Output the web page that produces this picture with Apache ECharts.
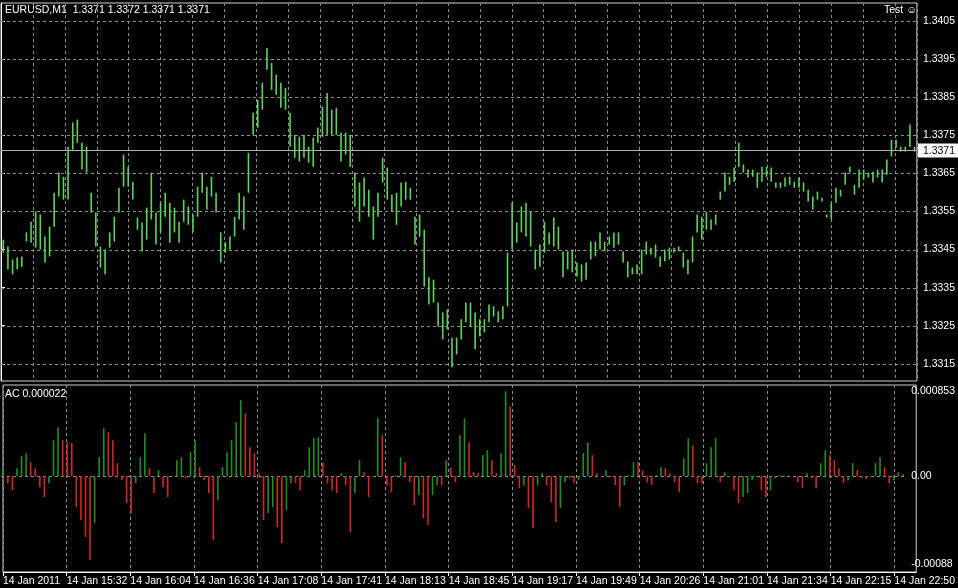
<!DOCTYPE html>
<html><head><meta charset="utf-8">
<script src="https://cdn.jsdelivr.net/npm/echarts@6/dist/echarts.min.js"></script>
<style>html,body{margin:0;padding:0;background:#000}#c{width:958px;height:588px}</style>
</head><body><div id="c"></div>
<script>
var highs = [
1.33476,1.33458,1.33424,1.33429,1.33432,1.33495,1.33523,1.33550,1.33542,1.33484,
1.33510,1.33599,1.33652,1.33641,1.33720,1.33783,1.33791,1.33730,1.33720,1.33599,
1.33547,1.33458,1.33450,1.33495,1.33536,1.33612,1.33699,1.33667,1.33628,1.33534,
1.33521,1.33560,1.33652,1.33547,1.33573,1.33599,1.33573,1.33560,1.33523,1.33581,
1.33563,1.33542,1.33615,1.33652,1.33615,1.33641,1.33599,1.33495,1.33469,1.33484,
1.33536,1.33599,1.33589,1.33704,
1.33809,1.33843,1.33888,1.33979,1.33940,1.33909,1.33888,1.33874,1.33809,1.33751,
1.33746,1.33751,1.33720,1.33743,1.33770,1.33825,1.33861,1.33817,1.33822,1.33757,
1.33757,1.33751,1.33652,1.33626,1.33639,1.33607,1.33563,1.33599,1.33691,1.33665,
1.33594,1.33599,1.33626,1.33628,1.33612,1.33536,1.33542,1.33502,1.33377,1.33371,
1.33311,1.33285,1.33293,1.33219,1.33219,1.33267,1.33311,
1.33311,1.33285,1.33267,1.33267,1.33306,1.33301,1.33288,1.33301,1.33442,1.33573,
1.33521,1.33563,1.33573,1.33549,1.33450,1.33463,1.33523,1.33495,1.33534,1.33510,
1.33445,1.33445,1.33450,1.33416,1.33411,1.33416,1.33471,1.33471,1.33495,1.33471,
1.33484,1.33495,1.33495,1.33445,1.33419,1.33403,1.33411,1.33450,1.33471,1.33455,
1.33463,1.33432,1.33450,1.33455,1.33455,1.33458,1.33442,1.33424,1.33484,1.33542,
1.33536,1.33549,1.33529,1.33542,1.33602,1.33652,1.33641,1.33665,1.33730,1.33673,
1.33660,1.33660,1.33652,1.33667,1.33667,1.33665,1.33626,1.33626,1.33639,1.33641,
1.33628,1.33639,1.33626,1.33607,1.33589,1.33602,1.33586,1.33542,1.33573,1.33612,
1.33607,1.33652,1.33667,1.33620,1.33660,1.33660,1.33652,1.33654,1.33660,1.33660,
1.33686,1.33738,1.33738,1.33720,1.33720,1.33778,1.33720];
var lows = [
1.33442,1.33398,1.33385,1.33398,1.33405,1.33471,1.33468,1.33455,1.33450,1.33416,
1.33432,1.33510,1.33589,1.33581,1.33581,1.33712,1.33730,1.33660,1.33652,1.33547,
1.33458,1.33403,1.33385,1.33455,1.33471,1.33547,1.33615,1.33615,1.33581,1.33502,
1.33445,1.33476,1.33529,1.33463,1.33495,1.33536,1.33468,1.33495,1.33468,1.33523,
1.33515,1.33497,1.33536,1.33599,1.33555,1.33589,1.33547,1.33416,1.33442,1.33450,
1.33484,1.33529,1.33502,1.33599,
1.33751,1.33770,1.33817,1.33922,1.33869,1.33856,1.33822,1.33817,1.33720,1.33691,
1.33681,1.33691,1.33678,1.33667,1.33730,1.33746,1.33751,1.33751,1.33751,1.33681,
1.33699,1.33667,1.33563,1.33523,1.33563,1.33536,1.33476,1.33536,1.33626,1.33581,
1.33549,1.33515,1.33563,1.33581,1.33581,1.33463,1.33484,1.33353,1.33306,1.33311,
1.33248,1.33214,1.33240,1.33141,1.33175,1.33214,1.33259,
1.33248,1.33188,1.33222,1.33233,1.33259,1.33274,1.33259,1.33267,1.33301,1.33450,
1.33468,1.33495,1.33484,1.33458,1.33398,1.33405,1.33442,1.33463,1.33458,1.33450,
1.33377,1.33398,1.33390,1.33379,1.33366,1.33371,1.33424,1.33432,1.33450,1.33445,
1.33463,1.33455,1.33463,1.33416,1.33377,1.33385,1.33385,1.33385,1.33437,1.33437,
1.33429,1.33405,1.33419,1.33424,1.33442,1.33445,1.33403,1.33385,1.33416,1.33495,
1.33476,1.33502,1.33502,1.33515,1.33581,1.33602,1.33620,1.33628,1.33667,1.33652,
1.33639,1.33641,1.33612,1.33628,1.33641,1.33628,1.33612,1.33612,1.33615,1.33620,
1.33612,1.33612,1.33602,1.33576,1.33555,1.33581,1.33576,1.33534,1.33529,1.33573,
1.33589,1.33620,1.33652,1.33594,1.33612,1.33634,1.33639,1.33626,1.33639,1.33626,
1.33646,1.33694,1.33717,1.33707,1.33707,1.33720,1.33707];
var acValues = [
0.00006,-0.00007,-0.00014,0.00008,0.00020,0.00023,0.00014,0.00008,-0.00011,-0.00021,
-0.00007,0.00036,0.00049,0.00036,0.00034,0.00033,-0.00031,-0.00044,-0.00061,-0.00084,
-0.00047,0.00019,0.00048,0.00044,0.00036,0.00013,-0.00004,-0.00027,-0.00037,-0.00007,
0.00019,0.00043,0.00008,-0.00017,0.00006,-0.00011,-0.00021,0.00000,0.00016,0.00019,
-0.00002,0.00024,0.00036,0.00009,-0.00004,-0.00017,-0.00064,-0.00024,0.00009,0.00024,
0.00036,0.00054,0.00076,0.00063,0.00029,0.00023,0.00003,-0.00044,-0.00037,-0.00031,
-0.00051,-0.00067,-0.00034,-0.00007,-0.00007,-0.00014,0.00006,0.00029,0.00038,
0.00039,0.00014,-0.00007,-0.00014,-0.00017,0.00003,-0.00009,-0.00056,-0.00017,0.00016,
0.00004,-0.00021,-0.00001,0.00058,0.00041,-0.00009,-0.00016,0.00001,0.00019,0.00014,
-0.00006,-0.00029,-0.00019,-0.00042,-0.00049,-0.00019,-0.00009,-0.00009,0.00016,0.00008,
-0.00006,0.00041,0.00058,0.00034,0.00004,0.00003,0.00021,0.00026,0.00016,0.00003,
0.00023,0.00085,0.00070,
0.00011,-0.00012,-0.00009,-0.00032,-0.00052,-0.00009,0.00003,-0.00009,-0.00026,-0.00046,
-0.00032,-0.00006,-0.00002,-0.00007,-0.00004,0.00023,0.00034,0.00021,0.00003,-0.00001,
0.00006,-0.00001,-0.00009,-0.00031,-0.00009,0.00001,0.00014,0.00014,0.00006,-0.00006,
-0.00009,0.00001,0.00009,0.00008,0.00003,-0.00006,-0.00016,0.00018,0.00038,0.00031,
-0.00007,
-0.00007,0.00013,0.00029,0.00038,-0.00006,0.00004,-0.00001,-0.00014,-0.00027,-0.00021,
-0.00017,-0.00004,-0.00001,-0.00014,-0.00021,-0.00014,-0.00002,0.00001,-0.00001,0.00000,
-0.00001,-0.00006,-0.00012,0.00003,-0.00002,-0.00012,0.00013,0.00026,0.00021,0.00016,
0.00008,-0.00007,-0.00004,0.00013,0.00006,-0.00002,-0.00003,-0.00001,0.00013,0.00019,
0.00009,-0.00007,-0.00004,0.00004,0.000022];
var priceTicks = [1.3405,1.3395,1.3385,1.3375,1.3365,1.3355,1.3345,1.3335,1.3325,1.3315];
var acTicks = [0.000853, 0, -0.00088];
var timeLabels = ['14 Jan 2011','14 Jan 15:32','14 Jan 16:04','14 Jan 16:36','14 Jan 17:08','14 Jan 17:41','14 Jan 18:13','14 Jan 18:45','14 Jan 19:17','14 Jan 19:49','14 Jan 20:26','14 Jan 21:01','14 Jan 21:34','14 Jan 22:15','14 Jan 22:50'];
var lastPrice = 1.3371;
var header = 'EURUSD,M1  1.3371 1.3372 1.3371 1.3371';
var acHeader = 'AC 0.000022';

var FONT = 'Liberation Sans';
var FS = 10.5;
var idx = highs.map(function(_, i){ return i; });
var GRID_COLOR = '#8c8c8c';
var gridLineStyle = {color:GRID_COLOR, type:[3,3], width:1};
var chart = echarts.init(document.getElementById('c'), null, {renderer:'canvas'});

function barItem(params, api){
  var i = api.value(0);
  var p1 = api.coord([i, api.value(1)]);
  var p2 = api.coord([i, api.value(2)]);
  var w = 1.6;
  return {type:'rect', shape:{x:p1[0]-w/2, y:p2[1], width:w, height:Math.max(1,p1[1]-p2[1])},
    style:{fill:api.visual('color')}};
}
function hLineItem(dashed, color, withLabel){
  return function(params, api){
    var cs = params.coordSys;
    var y = Math.round(api.coord([0, api.value(1)])[1]) + 0.5;
    var children = [{type:'line', shape:{x1:cs.x, y1:y, x2:cs.x+cs.width, y2:y},
      style:{stroke:color, lineWidth:1, lineDash: dashed ? [3,3] : null}}];
    if (withLabel) {
      children.push({type:'text', x:cs.x+cs.width+1, y:y-7,
        style:{text:api.value(1).toFixed(4), fill:'#000', backgroundColor:'#fff', padding:[2,5,1,5],
          font:FS+'px "'+FONT+'"'}});
    }
    return {type:'group', children:children};
  };
}

var priceData = idx.map(function(i){ return [i, lows[i], highs[i]]; });
var acData = acValues.map(function(v, i){
  var up = i > 0 ? v > acValues[i-1] : true;
  return {value:[i, v], itemStyle:{color: up ? '#1f8f1f' : '#d42626'}};
});
var xMax = 918/32;
var evenTicks = timeLabels.map(function(_, k){ return k*2; });

chart.setOption({
  backgroundColor:'#000',
  animation:false,
  textStyle:{fontFamily:FONT},
  grid:[
    {left:1, right:39, top:3, bottom:207, show:true, borderColor:'#d0d0d0', borderWidth:1},
    {left:1, right:39, top:391, bottom:24},
    {left:1, right:39, top:385, bottom:16, show:true, borderColor:'#d0d0d0', borderWidth:1}
  ],
  xAxis:[
    {type:'category', gridIndex:0, data:idx, show:false, boundaryGap:true},
    {type:'category', gridIndex:1, data:idx, show:false, boundaryGap:true},
    {type:'value', gridIndex:0, min:0, max:xMax, interval:1, axisLine:{show:false}, axisTick:{show:false}, axisLabel:{show:false}, splitLine:{show:true, lineStyle:gridLineStyle}},
    {type:'value', gridIndex:2, min:0, max:xMax, interval:1, position:'bottom',
      axisLine:{show:true, lineStyle:{color:'#ffffff'}},
      axisTick:{show:true, customValues:evenTicks, length:4, inside:false, lineStyle:{color:'#ffffff'}},
      axisLabel:{show:true, customValues:evenTicks, color:'#ffffff', fontSize:FS, fontFamily:FONT, align:'left', margin:4,
        formatter:function(v){ return timeLabels[Math.round(v/2)] || ''; }},
      splitLine:{show:true, lineStyle:gridLineStyle}}
  ],
  yAxis:[
    {type:'value', gridIndex:0, position:'right', min:1.33105, max:1.34097,
      axisLine:{show:true, lineStyle:{color:'#ffffff'}},
      axisTick:{show:true, customValues:priceTicks, length:4, lineStyle:{color:'#ffffff'}},
      axisLabel:{customValues:priceTicks, color:'#ffffff', fontSize:FS, fontFamily:FONT, margin:6,
        formatter:function(v){ return v.toFixed(4); }},
      splitLine:{show:false}},
    {type:'value', gridIndex:1, position:'right', min:-0.00088, max:0.000853,
      axisLine:{show:false},
      axisTick:{show:false},
      axisLabel:{customValues:acTicks, color:'#ffffff', fontSize:FS, fontFamily:FONT, margin:6,
        formatter:function(v){ return v === 0 ? '0.00' : String(v); }},
      splitLine:{show:false}},
    {type:'value', gridIndex:2, position:'right', show:false, min:0, max:1, splitLine:{show:false}}
  ],
  series:[
    {type:'custom', xAxisIndex:0, yAxisIndex:0, silent:true, z:1,
      renderItem:hLineItem(true, GRID_COLOR, false),
      data:priceTicks.map(function(t){ return [0, t]; }), encode:{x:0, y:1}, clip:false},
    {type:'custom', xAxisIndex:0, yAxisIndex:0, renderItem:barItem, data:priceData, z:3,
      itemStyle:{color:'#5ed35e'}, encode:{x:0, y:[1,2]}, clip:true},
    {type:'custom', xAxisIndex:0, yAxisIndex:0, silent:true, z:4,
      renderItem:hLineItem(false, '#b0b0b0', true),
      data:[[0, lastPrice]], encode:{x:0, y:1}, clip:false},
    {type:'custom', xAxisIndex:1, yAxisIndex:1, silent:true, z:1,
      renderItem:hLineItem(true, GRID_COLOR, false),
      data:[[0, 0]], encode:{x:0, y:1}, clip:false},
    {type:'bar', xAxisIndex:1, yAxisIndex:1, data:acData, barWidth:1.6, z:3}
  ],
  graphic:[
    {type:'text', left:5, top:5, style:{text:header, fill:'#ffffff', font:'10.5px "Liberation Sans"'}},
    {type:'text', left:884, top:5, style:{text:'Test ☺', fill:'#ffffff', font:'10.5px "Liberation Sans"'}},
    {type:'text', left:5, top:389, style:{text:acHeader, fill:'#ffffff', font:'10.5px "Liberation Sans"'}}
  ]
});
</script></body></html>
